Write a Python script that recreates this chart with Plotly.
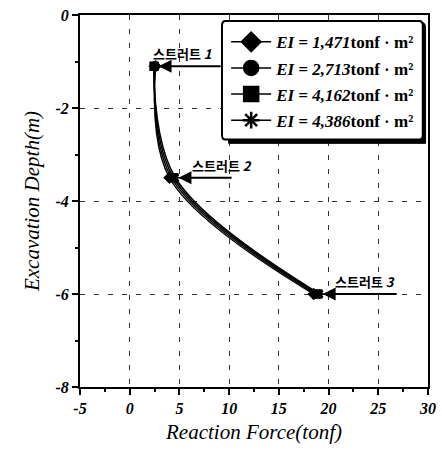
import plotly.graph_objects as go

# Strut depths (m) and reaction forces (tonf) for each wall stiffness
strut_depth = [-1.1, -3.5, -6.0]
strut_names = ["스트러트 <i>1</i>", "스트러트 <i>2</i>", "스트러트 <i>3</i>"]
ei_labels = ["1,471", "2,713", "4,162", "4,386"]
force_1471 = [2.6, 4.0, 18.5]
force_2713 = [2.5, 4.2, 18.7]
force_4162 = [2.45, 4.4, 18.9]
force_4386 = [2.4, 4.6, 19.1]
series = [force_1471, force_2713, force_4162, force_4386]
symbols = ["diamond", "circle", "square", "asterisk"]

x_ticks = [-5, 0, 5, 10, 15, 20, 25, 30]
y_ticks = [0, -2, -4, -6, -8]

# arrow tails (tonf) and label left edges (tonf) for the strut callouts
arrow_tail = [9.3, 10.4, 27.0]
label_left = [2.1, 6.1, 20.4]

SERIF = "Liberation Serif"
fig = go.Figure()

for f, sym in zip(series, symbols):
    fig.add_trace(go.Scatter(
        x=f, y=strut_depth, mode="lines+markers",
        line=dict(color="black", width=1.5, shape="spline"),
        marker=dict(symbol=sym, size=8, color="black",
                    line=dict(color="black", width=1.5)),
        showlegend=False,
    ))

# legend entries with larger symbols
for k, (lab, sym) in enumerate(zip(ei_labels, symbols)):
    fig.add_trace(go.Scatter(
        x=[None], y=[None], mode="lines+markers",
        line=dict(color="black", width=1.5),
        marker=dict(symbol=sym, size=14, color="black",
                    line=dict(color="black", width=2.5)),
        name=f"<b><i>EI = {lab}</i>tonf · m²</b>",
        legendgroup=f"g{k}",
    ))

annotations = []
for i, d in enumerate(strut_depth):
    tip = max(f[i] for f in series)
    annotations.append(dict(
        x=tip, y=d, ax=arrow_tail[i], ay=d, xref="x", yref="y",
        axref="x", ayref="y", text="", showarrow=True,
        arrowhead=2, arrowsize=1.3, arrowwidth=2, arrowcolor="black",
        standoff=3,
    ))
    annotations.append(dict(
        x=label_left[i], y=d, xref="x", yref="y", text=f"<b>{strut_names[i]}</b>",
        showarrow=False, xanchor="left", yanchor="bottom", yshift=1,
        font=dict(family="Noto Sans CJK KR", size=13, color="black"),
    ))

shapes = [
    # legend box shadow and box (rounded)
    dict(type="path", xref="paper", yref="paper",
         path="M0.427,0.655 L0.993,0.655 L0.993,0.965 Q0.993,0.98 0.983,0.98 "
              "L0.437,0.98 Q0.427,0.98 0.427,0.965 Z",
         fillcolor="black", line=dict(color="black", width=1), layer="above"),
    dict(type="path", xref="paper", yref="paper",
         path="M0.408,0.678 Q0.408,0.665 0.418,0.665 L0.975,0.665 Q0.985,0.665 0.985,0.678 "
              "L0.985,0.971 Q0.985,0.984 0.975,0.984 L0.418,0.984 Q0.408,0.984 0.408,0.971 Z",
         fillcolor="white", line=dict(color="black", width=2), layer="above"),
]

fig.update_layout(
    width=442, height=455,
    margin=dict(l=80, r=14, t=15, b=68, autoexpand=False),
    paper_bgcolor="white", plot_bgcolor="white",
    font=dict(family=SERIF, color="black"),
    showlegend=True,
    legend=dict(x=0.42, y=0.975, xanchor="left", yanchor="top",
                bgcolor="rgba(0,0,0,0)", borderwidth=0,
                font=dict(family=SERIF, size=17, color="black"),
                itemwidth=40, tracegroupgap=1),
    annotations=annotations,
    shapes=shapes,
)

axis_common = dict(
    showline=True, linecolor="black", linewidth=2, mirror=True,
    ticks="outside", ticklen=6, tickwidth=1.5, tickcolor="black",
    showgrid=True, gridcolor="#333", griddash="5px,9px", gridwidth=1,
    zeroline=False,
    tickfont=dict(family=SERIF, size=16, color="black", weight="bold", style="italic"),
)

fig.update_xaxes(
    range=[-5, 30], tickvals=x_ticks, ticktext=[str(v) for v in x_ticks],
    minor=dict(dtick=2.5, ticks="outside", ticklen=3, tickcolor="black", showgrid=False),
    title=dict(text="Reaction Force(tonf)", standoff=8,
               font=dict(family=SERIF, size=21, style="italic", color="black")),
    **axis_common,
)
fig.update_yaxes(
    range=[-8, 0], tickvals=y_ticks, ticktext=[str(v) for v in y_ticks],
    minor=dict(dtick=1, ticks="outside", ticklen=3, tickcolor="black", showgrid=False),
    title=dict(text="Excavation Depth(m)", standoff=10,
               font=dict(family=SERIF, size=21, style="italic", color="black")),
    **axis_common,
)

fig.write_html("out.html")
